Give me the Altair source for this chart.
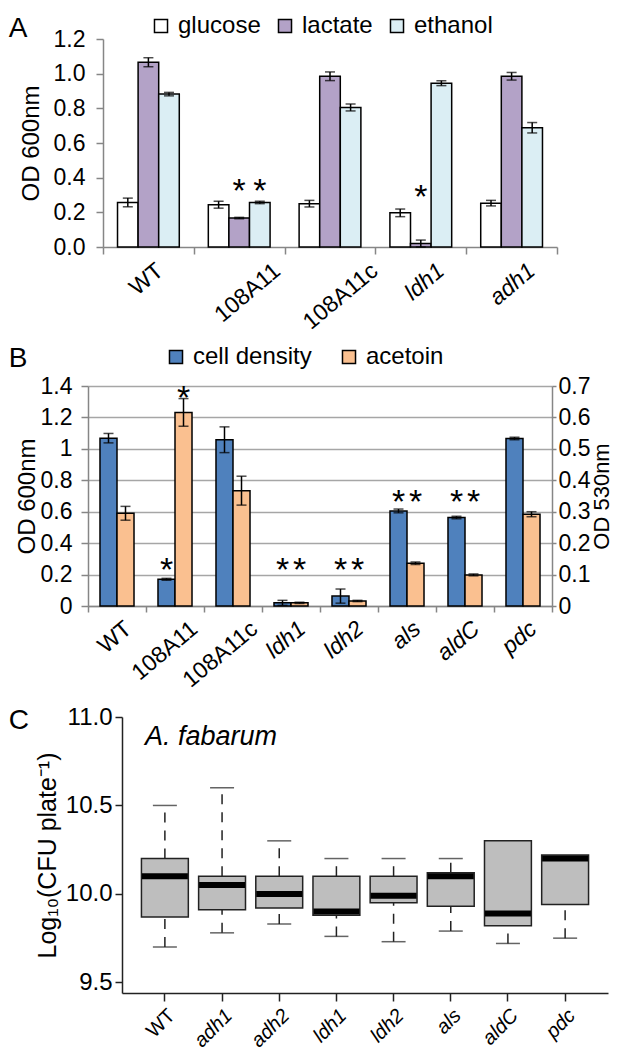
import altair as alt
import pandas as pd

FONT = "Liberation Sans"
GRAY = "#868686"

# ---------------- Panel A data ----------------
a_strains = ["WT", "108A11", "108A11c", "ldh1", "adh1"]
a_upright = ["WT", "108A11", "108A11c"]
a_series = ["glucose", "lactate", "ethanol"]
a_colors = ["#ffffff", "#b3a2c7", "#dbeef4"]
a_glucose = [0.257, 0.244, 0.250, 0.197, 0.253]
a_glucose_err = [0.025, 0.020, 0.019, 0.022, 0.016]
a_lactate = [1.066, 0.167, 0.985, 0.020, 0.985]
a_lactate_err = [0.026, 0.004, 0.025, 0.020, 0.022]
a_ethanol = [0.882, 0.257, 0.805, 0.945, 0.688]
a_ethanol_err = [0.010, 0.007, 0.020, 0.014, 0.030]
a_star_strain = ["108A11", "108A11", "ldh1"]
a_star_series = ["lactate", "ethanol", "lactate"]
a_star_y = [0.363, 0.363, 0.329]

# ---------------- Panel B data ----------------
b_strains = ["WT", "108A11", "108A11c", "ldh1", "ldh2", "als", "aldC", "pdc"]
b_upright = ["WT", "108A11", "108A11c"]
b_series = ["cell density", "acetoin"]
b_colors = ["#4f81bd", "#fac090"]
b_cell = [1.068, 0.170, 1.058, 0.020, 0.063, 0.605, 0.563, 1.066]
b_cell_err = [0.030, 0.006, 0.082, 0.016, 0.045, 0.012, 0.008, 0.008]
b_acetoin = [0.295, 0.616, 0.367, 0.010, 0.016, 0.136, 0.099, 0.292]
b_acetoin_err = [0.022, 0.044, 0.046, 0.002, 0.002, 0.004, 0.003, 0.008]
b_star_cell_strain = ["108A11", "ldh1", "ldh2", "als", "aldC"]
b_star_cell_y = [0.275, 0.275, 0.275, 0.705, 0.705]
b_star_ace_strain = ["108A11", "ldh1", "ldh2", "als", "aldC"]
b_star_ace_y = [0.684, 0.1375, 0.1375, 0.3525, 0.3525]

# ---------------- Panel C data ----------------
c_strains = ["WT", "adh1", "adh2", "ldh1", "ldh2", "als", "aldC", "pdc"]
c_upright = ["WT"]
c_min = [9.70, 9.78, 9.83, 9.76, 9.73, 9.79, 9.72, 9.75]
c_q1 = [9.87, 9.91, 9.92, 9.88, 9.95, 9.93, 9.82, 9.94]
c_med = [10.10, 10.05, 10.00, 9.90, 9.99, 10.10, 9.89, 10.20]
c_q3 = [10.20, 10.10, 10.10, 10.10, 10.10, 10.12, 10.30, 10.22]
c_max = [10.50, 10.60, 10.30, 10.20, 10.20, 10.20, 10.30, 10.22]


def js_list(items):
    return "[" + ",".join("'%s'" % u for u in items) + "]"


def style_cond(upright):
    return {"condition": {"test": "indexof(%s, datum.value) >= 0" % js_list(upright),
                          "value": "normal"},
            "value": "italic"}


def offset_expr(upright, up_expr, it_expr):
    expr = "indexof(%s, datum.value) >= 0 ? %s : %s" % (js_list(upright), up_expr, it_expr)
    return {"condition": {"test": "false", "value": 0}, "expr": expr}


def spacer(w):
    return alt.Chart(pd.DataFrame({"s": [0]})).mark_point(opacity=0).properties(width=w, height=1)


def wrap(panel, gap, letter, offset, dy):
    return alt.hconcat(spacer(1), panel, spacing=gap).properties(
        title=alt.TitleParams(letter, anchor="start", frame="bounds", fontSize=28,
                              fontWeight="normal", font=FONT, baseline="alphabetic",
                              offset=offset, dy=dy))


# ================= Panel A =================
rows = []
for ser, vals, errs in zip(a_series, [a_glucose, a_lactate, a_ethanol],
                           [a_glucose_err, a_lactate_err, a_ethanol_err]):
    for st, v, e in zip(a_strains, vals, errs):
        rows.append({"strain": st, "series": ser, "value": v, "lo": v - e, "hi": v + e})
dfA = pd.DataFrame(rows)
dfAs = pd.DataFrame({"strain": a_star_strain, "series": a_star_series, "y": a_star_y})

xA = alt.X("strain:N", sort=a_strains,
           scale=alt.Scale(domain=a_strains, paddingInner=0, paddingOuter=0),
           axis=alt.Axis(title=None, labelAngle=-40, labelAlign="right", labelBaseline="top",
                         labelFontSize=23, labelPadding=5,
                         labelFontStyle=style_cond(a_upright),
                         labelOffset=offset_expr(a_upright, "length(datum.label)*6.6-9",
                                                 "length(datum.label)*3.25"),
                         tickBand="extent", tickSize=7, tickColor=GRAY, tickWidth=1.5,
                         domainColor=GRAY, domainWidth=1.5, grid=False))
xoA = alt.XOffset("series:N", sort=a_series,
                  scale=alt.Scale(domain=a_series, paddingInner=0, paddingOuter=0.705))
yScaleA = alt.Scale(domain=[0, 1.2], nice=False, zero=True)
yAxisA = alt.Axis(title="OD 600nm", titleFontSize=24, titlePadding=10,
                  values=[0, 0.2, 0.4, 0.6, 0.8, 1.0, 1.2], format=".1f",
                  labelFontSize=23, labelPadding=11, labelFlush=False,
                  labelOverlap=False, tickCount=7,
                  tickSize=7, tickColor=GRAY, tickWidth=1.5,
                  domainColor=GRAY, domainWidth=1.5, grid=False)


def yA(field):
    return alt.Y(field, scale=yScaleA, axis=yAxisA)


legA = alt.Legend(title=None, orient="none", legendX=138, legendY=-25, direction="horizontal",
                  symbolType="square", symbolSize=170, symbolStrokeColor="black",
                  symbolStrokeWidth=1.5, symbolOpacity=1, labelFontSize=24,
                  columnPadding=12, labelOffset=5, gridAlign="none")
colA = alt.Color("series:N", sort=a_series, scale=alt.Scale(domain=a_series, range=a_colors),
                 legend=legA)

baseA = alt.Chart(dfA)
barsA = baseA.mark_bar(stroke="black", strokeWidth=1.5, opacity=1).encode(
    x=xA, xOffset=xoA, y=yA("value:Q"), color=colA)
ruleA = baseA.mark_rule(color="black", strokeWidth=1.5).encode(
    x=xA, xOffset=xoA, y=yA("lo:Q"), y2="hi:Q")
capLoA = baseA.mark_tick(color="black", size=10, thickness=1.5).encode(
    x=xA, xOffset=xoA, y=yA("lo:Q"))
capHiA = baseA.mark_tick(color="black", size=10, thickness=1.5).encode(
    x=xA, xOffset=xoA, y=yA("hi:Q"))
starA = alt.Chart(dfAs).mark_text(text="*", fontSize=34, font=FONT, color="black",
                                  baseline="middle", dy=8).encode(
    x=xA, xOffset=xoA, y=yA("y:Q"))
panelA = alt.layer(barsA, ruleA, capLoA, capHiA, starA).properties(width=454, height=208)

# ================= Panel B =================
rows = []
for st, v, e in zip(b_strains, b_cell, b_cell_err):
    rows.append({"strain": st, "series": "cell density", "value": v, "lo": v - e, "hi": v + e})
dfBc = pd.DataFrame(rows)
rows = []
for st, v, e in zip(b_strains, b_acetoin, b_acetoin_err):
    rows.append({"strain": st, "series": "acetoin", "value": v, "lo": v - e, "hi": v + e})
dfBa = pd.DataFrame(rows)
dfBcs = pd.DataFrame({"strain": b_star_cell_strain, "series": "cell density", "y": b_star_cell_y})
dfBas = pd.DataFrame({"strain": b_star_ace_strain, "series": "acetoin", "y": b_star_ace_y})

xB = alt.X("strain:N", sort=b_strains,
           scale=alt.Scale(domain=b_strains, paddingInner=0, paddingOuter=0),
           axis=alt.Axis(title=None, labelAngle=-40, labelAlign="right", labelBaseline="top",
                         labelFontSize=23, labelPadding=5,
                         labelFontStyle=style_cond(b_upright),
                         labelOffset=offset_expr(b_upright, "length(datum.label)*2",
                                                 "length(datum.label)*1"),
                         tickBand="extent", tickSize=6, tickColor=GRAY, tickWidth=1.5,
                         domainColor=GRAY, domainWidth=1.5, grid=False))
xoB = alt.XOffset("series:N", sort=b_series,
                  scale=alt.Scale(domain=b_series, paddingInner=0, paddingOuter=0.705))
legB = alt.Legend(title=None, orient="none", legendX=153, legendY=-41, direction="horizontal",
                  symbolType="square", symbolSize=170, symbolStrokeColor="black",
                  symbolStrokeWidth=1.5, symbolOpacity=1, labelFontSize=24,
                  columnPadding=25, labelOffset=5, gridAlign="none")
colB = alt.Color("series:N", sort=b_series, scale=alt.Scale(domain=b_series, range=b_colors),
                 legend=legB)
yScaleBl = alt.Scale(domain=[0, 1.4], nice=False, zero=True)
yAxisBl = alt.Axis(title="OD 600nm", titleFontSize=24, titlePadding=1, orient="left",
                   values=[0, 0.2, 0.4, 0.6, 0.8, 1.0, 1.2, 1.4], format="~g",
                   labelFontSize=23, labelPadding=9, labelFlush=False,
                   labelOverlap=False, tickCount=8,
                   tickSize=7, tickColor=GRAY, tickWidth=1.5,
                   domainColor=GRAY, domainWidth=1.5,
                   grid=True, gridColor="#a6a6a6", gridWidth=1.3)
yScaleBr = alt.Scale(domain=[0, 0.7], nice=False, zero=True)
yAxisBr = alt.Axis(title="OD 530nm", titleFontSize=22, titlePadding=2, orient="right",
                   titleAngle=270, titleBaseline="top",
                   values=[0, 0.1, 0.2, 0.3, 0.4, 0.5, 0.6, 0.7], format="~g",
                   labelFontSize=23, labelPadding=2, labelFlush=False,
                   labelOverlap=False, tickCount=8,
                   tickSize=4, tickColor=GRAY, tickWidth=1.5,
                   domainColor=GRAY, domainWidth=1.5, grid=False)


def b_layer(df, dfs, yscale, yaxis):
    def yy(field):
        return alt.Y(field, scale=yscale, axis=yaxis)
    base = alt.Chart(df)
    bars = base.mark_bar(stroke="black", strokeWidth=1.5, opacity=1).encode(
        x=xB, xOffset=xoB, y=yy("value:Q"), color=colB)
    rule = base.mark_rule(color="black", strokeWidth=1.5).encode(
        x=xB, xOffset=xoB, y=yy("lo:Q"), y2="hi:Q")
    lo = base.mark_tick(color="black", size=10, thickness=1.5).encode(
        x=xB, xOffset=xoB, y=yy("lo:Q"))
    hi = base.mark_tick(color="black", size=10, thickness=1.5).encode(
        x=xB, xOffset=xoB, y=yy("hi:Q"))
    star = alt.Chart(dfs).mark_text(text="*", fontSize=34, font=FONT, color="black",
                                    baseline="middle", dy=8).encode(
        x=xB, xOffset=xoB, y=yy("y:Q"))
    return alt.layer(bars, rule, lo, hi, star)


panelB = alt.layer(b_layer(dfBc, dfBcs, yScaleBl, yAxisBl),
                   b_layer(dfBa, dfBas, yScaleBr, yAxisBr)).resolve_scale(
    y="independent").properties(width=464, height=220)

# ================= Panel C =================
dfC = pd.DataFrame({"strain": c_strains, "lo": c_min, "q1": c_q1, "med": c_med,
                    "q3": c_q3, "hi": c_max})
xC = alt.X("strain:N", sort=c_strains,
           scale=alt.Scale(domain=c_strains, paddingInner=0.18, paddingOuter=0.34),
           axis=alt.Axis(title=None, labelAngle=-45, labelAlign="right", labelBaseline="top",
                         labelFontSize=20, labelPadding=4,
                         labelFontStyle=style_cond(c_upright),
                         tickSize=8, tickColor="#222222", tickWidth=1.5,
                         domainColor="#222222", domainWidth=1.5, grid=False))
yScaleC = alt.Scale(domain=[9.44, 11.0], nice=False, zero=False)
yAxisC = alt.Axis(title="Log₁₀(CFU plate⁻¹)", titleFontSize=25, titlePadding=5,
                  values=[9.5, 10.0, 10.5, 11.0], format=".1f",
                  labelFontSize=24, labelPadding=3, labelFlush=False, labelOverlap=False,
                  tickSize=7, tickColor="#222222", tickWidth=1.5,
                  domainColor="#222222", domainWidth=1.5, grid=False)


def yC(field):
    return alt.Y(field, scale=yScaleC, axis=yAxisC)


baseC = alt.Chart(dfC)
whUp = baseC.mark_rule(color="#222222", strokeWidth=1.5, strokeDash=[10, 8]).encode(
    x=xC, y=yC("q3:Q"), y2="hi:Q")
whDn = baseC.mark_rule(color="#222222", strokeWidth=1.5, strokeDash=[10, 8]).encode(
    x=xC, y=yC("lo:Q"), y2="q1:Q")
capUp = baseC.mark_tick(color="#222222", size=24, thickness=1.5).encode(
    x=xC, y=yC("hi:Q")).transform_filter("datum.hi > datum.q3")
capDn = baseC.mark_tick(color="#222222", size=24, thickness=1.5).encode(
    x=xC, y=yC("lo:Q"))
box = baseC.mark_bar(color="#bebebe", stroke="#222222", strokeWidth=1.5, opacity=1).encode(
    x=xC, y=yC("q1:Q"), y2="q3:Q")
med = baseC.mark_tick(color="black", size=46, thickness=6, opacity=1).encode(
    x=xC, y=yC("med:Q"))
panelC = alt.layer(whUp, whDn, capUp, capDn, box, med).properties(
    width=486, height=276,
    title=alt.TitleParams("A. fabarum", anchor="start", frame="group", fontSize=27,
                          fontStyle="italic", fontWeight="normal", font=FONT,
                          baseline="alphabetic", offset=-35, dx=23, dy=32))

top_two = alt.vconcat(
    wrap(panelA, 4, "A", -20, 31),
    wrap(panelB, 0, "B", -22, 28),
    spacing=11,
).resolve_scale(color="independent", xOffset="independent", x="independent",
                y="independent").resolve_legend(color="independent")

chart = alt.vconcat(
    top_two,
    wrap(panelC, 20, "C", -25, 27),
    spacing=13,
).resolve_scale(color="independent", xOffset="independent", x="independent",
                y="independent").resolve_legend(color="independent").properties(
    padding={"left": 0, "right": 0, "top": 6, "bottom": 0}).configure_view(
    strokeWidth=0).configure_axis(
    labelFont=FONT, titleFont=FONT, labelColor="black", titleColor="black",
    titleFontWeight="normal").configure_legend(labelFont=FONT, labelColor="black").configure_title(
    font=FONT, color="black")

chart.save("out.html", embed_options={"renderer": "svg", "actions": False})
